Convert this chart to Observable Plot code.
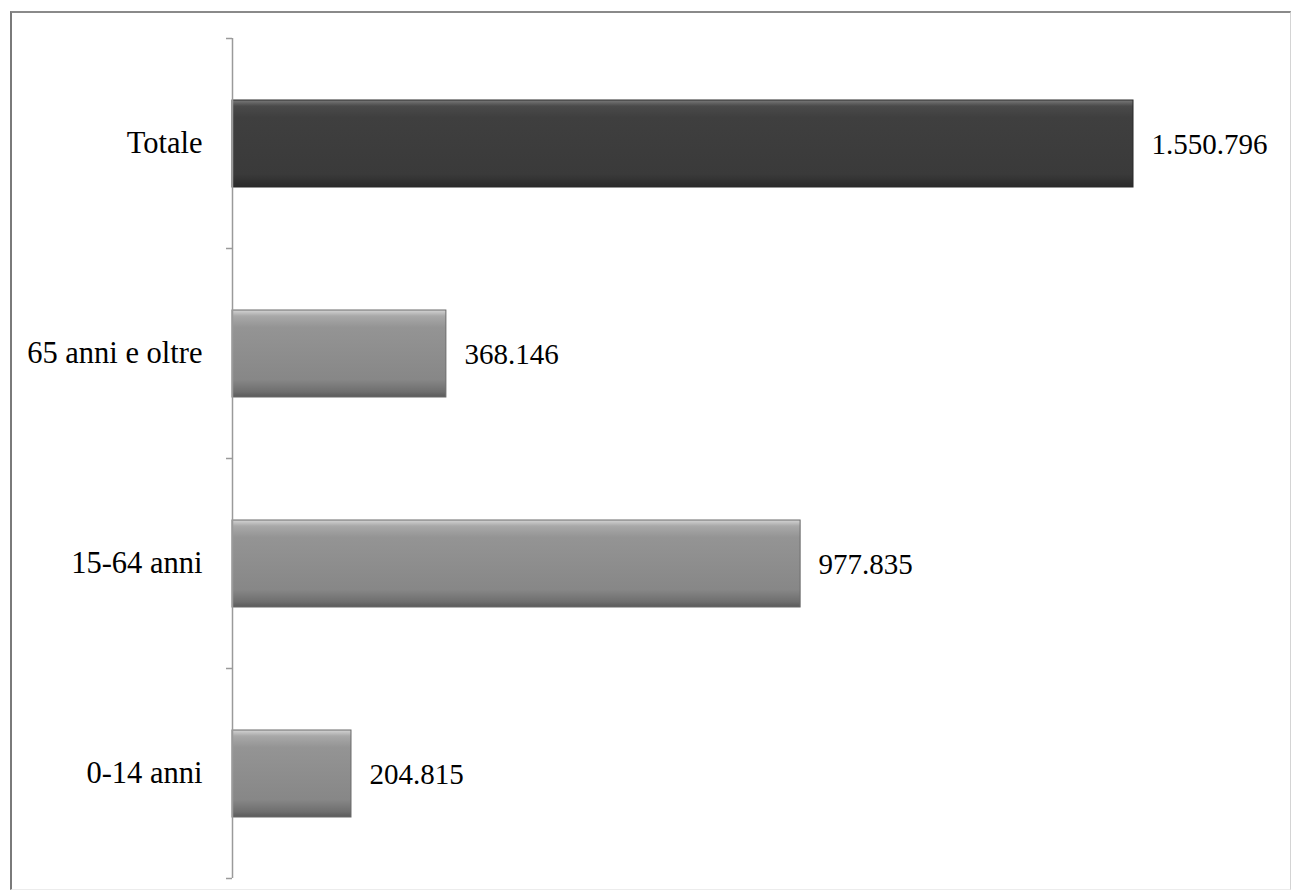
<!DOCTYPE html>
<html>
<head>
<meta charset="utf-8">
<script src="https://cdn.jsdelivr.net/npm/d3@7"></script>
<script src="https://cdn.jsdelivr.net/npm/@observablehq/plot@0.6"></script>
<style>
  html, body { margin: 0; padding: 0; background: #fff; width: 1293px; height: 896px; overflow: hidden; }
  #wrap { position: relative; width: 1293px; height: 896px; }
  #frame { position: absolute; left: 10px; top: 11px; width: 1281px; height: 879px;
           border-left: 2px solid #7a7a7a; border-top: 2px solid #8a8a8a;
           border-right: 1px solid #d4d4d4; border-bottom: 1px solid #ececec; box-sizing: border-box; }
  #chart { position: absolute; left: 0; top: 0; }
</style>
</head>
<body>
<div id="wrap"><div id="frame"></div><div id="chart"></div></div>
<script>
// Data (bottom to top as in the chart)
const categories = ["0-14 anni", "15-64 anni", "65 anni e oltre", "Totale"];
const values = [204815, 977835, 368146, 1550796];
const order = categories.slice().reverse(); // top to bottom

const data = categories.map((c, i) => ({cat: c, value: values[i]}));
const fmt = d3.formatLocale({decimal: ",", thousands: ".", grouping: [3], currency: ["", "€"]}).format(",d");

const xMax = 1821000;
const tickLen = 6 * xMax / 1058;

const chart = Plot.plot({
  width: 1293,
  height: 896,
  marginLeft: 232,
  marginRight: 3,
  marginTop: 38,
  marginBottom: 18,
  style: {fontFamily: "'Liberation Serif', 'Times New Roman', serif", fontSize: "30.5px", background: "transparent", color: "#000"},
  x: {domain: [0, xMax], axis: null},
  y: {domain: order, padding: 0, tickSize: 0, tickPadding: 30, label: null},
  marks: [
    Plot.barX(data, {
      x: "value", y: "cat",
      insetTop: 62, insetBottom: 61,
      fill: d => d.cat === "Totale" ? "url(#gDark)" : "url(#gGray)",
      stroke: d => d.cat === "Totale" ? "#2a2a2a" : "#6a6a6a",
      strokeWidth: 1
    }),
    Plot.ruleX([0], {stroke: "#9a9a9a", strokeWidth: 1.5}),
    Plot.ruleY(order, {y: d => d, dy: -105, x1: -tickLen, x2: 0, stroke: "#9a9a9a", strokeWidth: 1.5}),
    Plot.ruleY([order[order.length - 1]], {y: d => d, dy: 105, x1: -tickLen, x2: 0, stroke: "#9a9a9a", strokeWidth: 1.5}),
    Plot.text(data, {
      x: "value", y: "cat", text: d => fmt(d.value),
      textAnchor: "start", dx: 18, dy: 1, fontSize: 29, fill: "#000"
    })
  ]
});

// gradients for the bevelled bar look
const ns = "http://www.w3.org/2000/svg";
const defs = document.createElementNS(ns, "defs");
function grad(id, stops) {
  const g = document.createElementNS(ns, "linearGradient");
  g.setAttribute("id", id);
  g.setAttribute("x1", "0"); g.setAttribute("y1", "0");
  g.setAttribute("x2", "0"); g.setAttribute("y2", "1");
  for (const [o, c] of stops) {
    const s = document.createElementNS(ns, "stop");
    s.setAttribute("offset", o);
    s.setAttribute("stop-color", c);
    g.appendChild(s);
  }
  defs.appendChild(g);
}
grad("gGray", [["0", "#d4d4d4"], ["0.07", "#a8a8a8"], ["0.2", "#949494"], ["0.8", "#878787"], ["0.94", "#6e6e6e"], ["1", "#5a5a5a"]]);
grad("gDark", [["0", "#7a7a7a"], ["0.07", "#4a4a4a"], ["0.2", "#3f3f3f"], ["0.85", "#3a3a3a"], ["1", "#2a2a2a"]]);
chart.insertBefore(defs, chart.firstChild);

document.getElementById("chart").appendChild(chart);
</script>
</body>
</html>
